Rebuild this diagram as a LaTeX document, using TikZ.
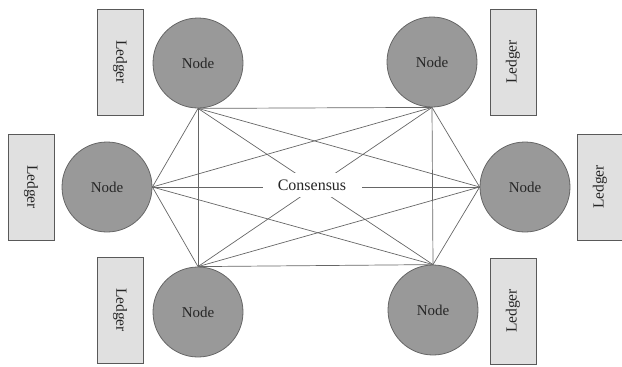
\documentclass[tikz,border=0pt]{standalone}
\usepackage{fontspec}
\setmainfont{Liberation Serif}
\begin{document}
\begin{tikzpicture}[x=1pt,y=-1pt,
  peer/.style={circle,draw=black!60,line width=0.8pt,fill=black!40,minimum size=90pt,inner sep=0pt,font=\fontsize{15}{17}\selectfont,text=black!85},
  ledger/.style={rectangle,draw=black!65,line width=1pt,fill=black!12,minimum width=106pt,minimum height=46pt,inner sep=0pt,font=\fontsize{15.5}{17}\selectfont,text=black!85},
  link/.style={draw=black!60,line width=0.7pt},
  hub/.style={fill=white,minimum width=99pt,minimum height=24pt,inner sep=0pt,font=\fontsize{16}{18}\selectfont,text=black!85}]
\useasboundingbox (0,0) rectangle (622,367);
\node[peer] (tl) at (198,63) {Node};
\node[peer] (tr) at (432,62) {Node};
\node[peer] (l) at (107,187) {Node};
\node[peer] (r) at (525,187) {Node};
\node[peer] (bl) at (198,312) {Node};
\node[peer] (br) at (433,310) {Node};
\node[ledger,rotate=-90] (ltl) at (120,62) {Ledger};
\node[ledger,rotate=-90] (ll) at (31,187) {Ledger};
\node[ledger,rotate=-90] (lbl) at (120,310) {Ledger};
\node[ledger,rotate=90] (ltr) at (513,62) {Ledger};
\node[ledger,rotate=90] (lr) at (600,187) {Ledger};
\node[ledger,rotate=90] (lbr) at (513,311) {Ledger};
\foreach \a/\b in {tl.south/tr.south, tl.south/l.east, tl.south/r.west, tl.south/bl.north, tl.south/br.north,
                   tr.south/l.east, tr.south/r.west, tr.south/bl.north, tr.south/br.north,
                   l.east/r.west, l.east/bl.north, l.east/br.north,
                   r.west/bl.north, r.west/br.north, bl.north/br.north}
  \draw[link] (\a) -- (\b);
\node[hub] (cons) at (312,185) {Consensus};
\end{tikzpicture}
\end{document}
